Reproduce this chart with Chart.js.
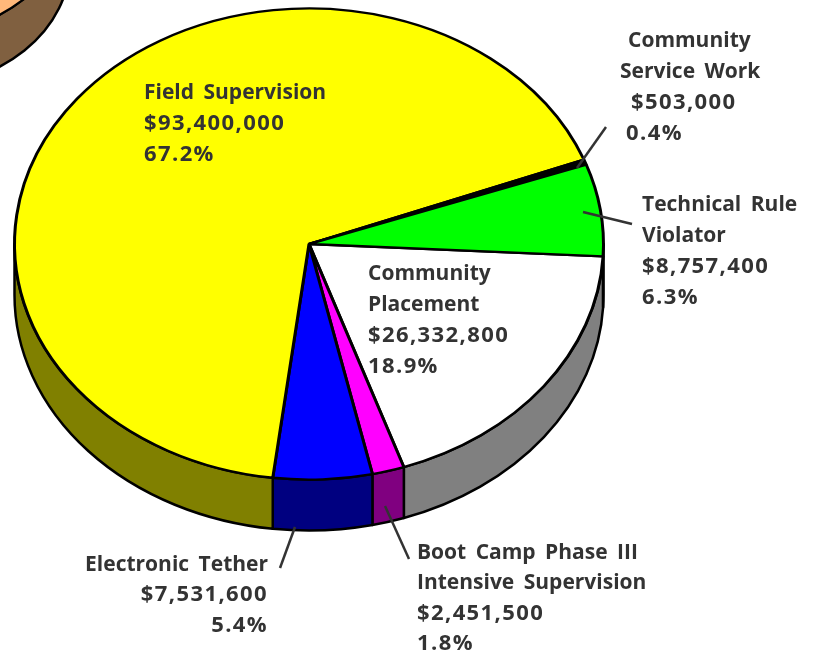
<!DOCTYPE html>
<html lang="en">
  <head>
    <meta charset="UTF-8" />
    <title>Field Supervision Budget Pie</title>
    <script src="https://cdn.jsdelivr.net/npm/chart.js@4"></script>
    <style>
      html, body { margin: 0; padding: 0; background: #fff; overflow: hidden; }
      #wrap { position: relative; width: 814px; height: 651px; overflow: hidden; }
      canvas { position: absolute; left: 0; top: 0; }
    </style>
  </head>
  <body>
    <div id="wrap">
      <canvas id="cornerPie" width="814" height="651"></canvas>
      <canvas id="mainPie" width="814" height="651"></canvas>
    </div>
    <script>
      // slices run clockwise from 3 o'clock
      const categories = ['Community Placement', 'Boot Camp Phase III Intensive Supervision', 'Electronic Tether', 'Field Supervision', 'Community Service Work', 'Technical Rule Violator'];
      const amounts = [26332800, 2451500, 7531600, 93400000, 503000, 8757400];
      const amountLabels = ['$26,332,800', '$2,451,500', '$7,531,600', '$93,400,000', '$503,000', '$8,757,400'];
      const percentLabels = ['18.9%', '1.8%', '5.4%', '67.2%', '0.4%', '6.3%'];
      const topColors = ['#ffffff', '#ff00ff', '#0000ff', '#ffff00', '#000000', '#00ff00'];
      const wallColors = ['#808080', '#800080', '#000080', '#808000', '#000000', '#008000'];

      // the neighbouring pie that is cut off in the top left corner
      const cornerValues = [1];
      const cornerTop = ['#ffb87a'];
      const cornerWall = ['#806040'];

      const textColor = '#333333';

      // text lines: [text, x, baseline, align]
      const labelLines = [
        ['Field Supervision', 144, 99, 'left'],
        [amountLabels[3], 144, 130, 'left'],
        [percentLabels[3], 144, 161, 'left'],
        ['Community', 628, 47, 'left'],
        ['Service Work', 620, 78, 'left'],
        [amountLabels[4], 631, 109, 'left'],
        [percentLabels[4], 626, 140, 'left'],
        ['Technical Rule', 642, 211, 'left'],
        ['Violator', 642, 242, 'left'],
        [amountLabels[5], 642, 273, 'left'],
        [percentLabels[5], 642, 304, 'left'],
        ['Community', 368, 280, 'left'],
        ['Placement', 368, 311, 'left'],
        [amountLabels[0], 368, 342, 'left'],
        [percentLabels[0], 368, 373, 'left'],
        ['Electronic Tether', 268, 571, 'right'],
        [amountLabels[2], 268, 601, 'right'],
        [percentLabels[2], 268, 632, 'right'],
        ['Boot Camp Phase III', 417, 559, 'left'],
        ['Intensive Supervision', 417, 589, 'left'],
        [amountLabels[1], 417, 620, 'left'],
        [percentLabels[1], 417, 650, 'left']
      ];
      // leader lines: x1, y1, x2, y2
      const leaders = [
        [577, 168, 606, 127],
        [583, 212, 632, 224],
        [385, 506, 409, 559],
        [295, 527, 280, 568]
      ];

      // squashes the round pie into an ellipse and puts a wall under it
      const depthPie = {
        id: 'depthPie',
        beforeDatasetsDraw(chart, args, opts) {
          const ctx = chart.ctx;
          const arcs = chart.getDatasetMeta(0).data;
          const rx = arcs[0].outerRadius;
          const ry = rx * opts.squash;
          ctx.save();
          ctx.lineWidth = 2.5;
          ctx.strokeStyle = '#000';
          ctx.lineJoin = 'round';
          arcs.forEach((arc, i) => {
            // front half of the pie, also after the angle passes a full turn
            [0, 2 * Math.PI].forEach(turn => {
              const a0 = Math.max(arc.startAngle, turn);
              const a1 = Math.min(arc.endAngle, turn + Math.PI);
              if (a1 <= a0) return;
              ctx.beginPath();
              ctx.ellipse(opts.cx, opts.cy, rx, ry, 0, a0, a1);
              ctx.ellipse(opts.cx, opts.cy + opts.depth, rx, ry, 0, a1, a0, true);
              ctx.closePath();
              ctx.fillStyle = opts.wall[i];
              ctx.fill();
              ctx.stroke();
            });
          });
          ctx.restore();
          ctx.save();
          ctx.translate(opts.cx, opts.cy);
          ctx.scale(1, opts.squash);
          ctx.translate(-arcs[0].x, -arcs[0].y);
        },
        afterDatasetsDraw(chart) {
          chart.ctx.restore();
        }
      };

      const pieLabels = {
        id: 'pieLabels',
        afterDraw(chart) {
          const ctx = chart.ctx;
          ctx.save();
          ctx.strokeStyle = textColor;
          ctx.lineWidth = 2.5;
          leaders.forEach(l => {
            ctx.beginPath();
            ctx.moveTo(l[0], l[1]);
            ctx.lineTo(l[2], l[3]);
            ctx.stroke();
          });
          ctx.fillStyle = textColor;
          ctx.textBaseline = 'alphabetic';
          labelLines.forEach(l => {
            // amounts and percents are spaced wider than the words
            const numeric = /[$%]/.test(l[0]);
            ctx.font = numeric ? 'bold 22px "Open Sans"' : 'bold 21px "Open Sans"';
            ctx.letterSpacing = numeric ? '1.4px' : '0px';
            ctx.wordSpacing = numeric ? '0px' : '4px';
            ctx.textAlign = l[3];
            ctx.fillText(l[0], l[1], l[2]);
          });
          ctx.restore();
        }
      };

      function pieOptions(rotation, padding, depthOpts) {
        return {
          responsive: false,
          animation: false,
          rotation: rotation,
          layout: { padding: padding },
          events: [],
          plugins: {
            legend: { display: false },
            tooltip: { enabled: false },
            depthPie: depthOpts
          }
        };
      }

      new Chart(document.getElementById('cornerPie'), {
        type: 'pie',
        plugins: [depthPie],
        data: {
          labels: ['Neighbouring pie'],
          datasets: [{ data: cornerValues, backgroundColor: cornerTop, borderColor: '#000', borderWidth: 2.5, clip: false }]
        },
        options: pieOptions(90, { left: 100, right: 402, top: 100, bottom: 239 },
          { cx: -85, cy: -89, squash: 0.8, depth: 52, wall: cornerWall })
      });

      new Chart(document.getElementById('mainPie'), {
        type: 'pie',
        plugins: [depthPie, pieLabels],
        data: {
          labels: categories,
          datasets: [{ data: amounts, backgroundColor: topColors, borderColor: '#000', borderWidth: 3, clip: false }]
        },
        options: pieOptions(93, { left: 13, right: 209, top: 29, bottom: 30 },
          { cx: 309, cy: 244, squash: 0.8, depth: 51, wall: wallColors })
      });
    </script>
  </body>
</html>
